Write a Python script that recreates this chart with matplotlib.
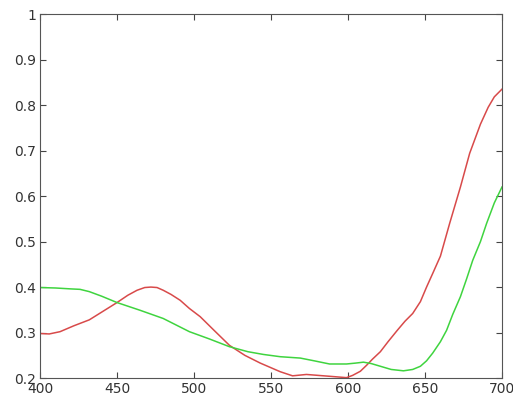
import matplotlib
matplotlib.use("Agg")
import matplotlib.pyplot as plt

red_x = [400, 406, 413, 422, 432, 441, 450, 457, 463, 468, 472, 476, 480, 485, 491, 497, 504,
         513, 523, 533, 543, 556, 564, 573, 588, 599, 603, 608, 612, 616, 621, 626, 632, 637,
         642, 647, 651, 655, 660, 666, 673, 679, 686, 691, 695, 700]
red_y = [0.298, 0.297, 0.302, 0.315, 0.328, 0.347, 0.366, 0.382, 0.393, 0.399, 0.40, 0.399,
         0.393, 0.384, 0.371, 0.353, 0.335, 0.305, 0.272, 0.25, 0.233, 0.214, 0.205, 0.208,
         0.204, 0.201, 0.206, 0.215, 0.228, 0.242, 0.258, 0.28, 0.305, 0.325, 0.342, 0.368,
         0.40, 0.43, 0.468, 0.54, 0.62, 0.694, 0.758, 0.795, 0.818, 0.835]

green_x = [400, 410, 420, 426, 432, 440, 450, 465, 480, 497, 510, 523, 535, 545, 556, 569,
           578, 588, 599, 605, 610, 615, 621, 628, 636, 642, 647, 651, 655, 660, 664, 668,
           673, 677, 681, 686, 690, 695, 700]
green_y = [0.399, 0.398, 0.396, 0.395, 0.39, 0.38, 0.366, 0.349, 0.331, 0.302, 0.286, 0.269,
           0.258, 0.252, 0.247, 0.244, 0.238, 0.231, 0.231, 0.233, 0.235, 0.232, 0.226, 0.219,
           0.216, 0.219, 0.226, 0.238, 0.255, 0.28, 0.305, 0.34, 0.379, 0.418, 0.459, 0.5,
           0.54, 0.585, 0.62]

fig = plt.figure(figsize=(5.13, 3.98), dpi=100)
ax = fig.add_axes([0.078, 0.05, 0.9006, 0.9148])

ax.plot(red_x, red_y, color="#d84a4a", lw=1.1)
ax.plot(green_x, green_y, color="#3fd43f", lw=1.1)

ax.set_xlim(400, 700)
ax.set_ylim(0.2, 1.0)
ax.set_xticks([400, 450, 500, 550, 600, 650, 700])
ax.set_yticks([0.2, 0.3, 0.4, 0.5, 0.6, 0.7, 0.8, 0.9, 1.0])
ax.set_yticklabels(["0.2", "0.3", "0.4", "0.5", "0.6", "0.7", "0.8", "0.9", "1"])

ax.tick_params(direction="in", top=True, right=True, length=4, width=0.8,
               colors="#444444", labelsize=10, labelcolor="#333333", pad=3)
for s in ax.spines.values():
    s.set_color("#555555")
    s.set_linewidth(0.8)

fig.savefig("out.png", dpi=100)
